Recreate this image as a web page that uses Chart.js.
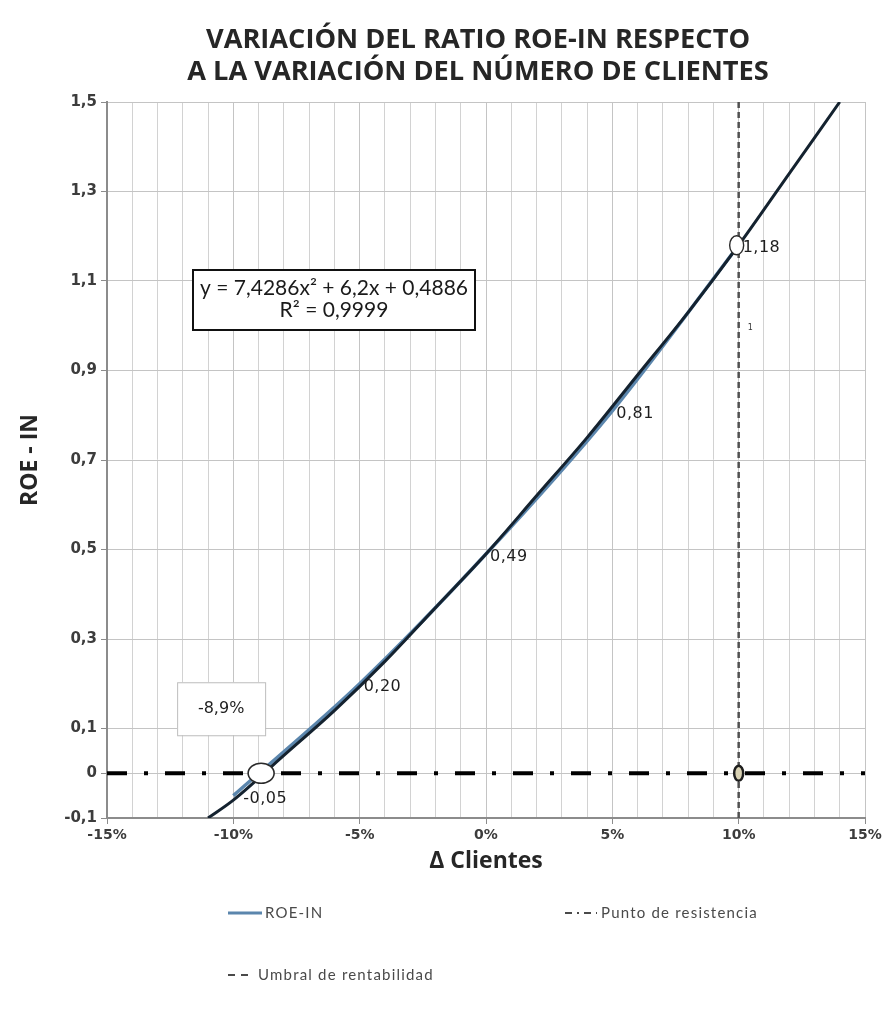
<!DOCTYPE html>
<html><head><meta charset="utf-8">
<script src="https://cdn.jsdelivr.net/npm/chart.js@4"></script>
<style>html,body{margin:0;padding:0;background:#fff}canvas{display:block}</style>
</head><body>
<canvas id="c" width="890" height="1014"></canvas>
<script>
// ---------- data ----------
const chartTitle = ['VARIACIÓN DEL RATIO ROE-IN RESPECTO', 'A LA VARIACIÓN DEL NÚMERO DE CLIENTES'];
const xAxisTitle = 'Δ Clientes';
const yAxisTitle = 'ROE - IN';

const xTickValues = [-15, -10, -5, 0, 5, 10, 15];
const xTickLabels = ['-15%', '-10%', '-5%', '0%', '5%', '10%', '15%'];
const yTickValues = [-0.1, 0, 0.1, 0.3, 0.5, 0.7, 0.9, 1.1, 1.3, 1.5];
const yTickLabels = ['-0,1', '0', '0,1', '0,3', '0,5', '0,7', '0,9', '1,1', '1,3', '1,5'];

// ROE-IN series (Δ clientes %, ROE-IN)
const roeX = [-10, -5, 0, 5, 10];
const roeY = [-0.05, 0.20, 0.49, 0.81, 1.18];
const roeLabels = ['-0,05', '0,20', '0,49', '0,81', '1,18'];

// polynomial trend line
const trendX = [-11, -10, -8, -6, -4, -2, 0, 2, 4, 6, 8, 10, 12, 14];
const trendY = [-0.10, -0.06, 0.04, 0.14, 0.25, 0.37, 0.49, 0.62, 0.75, 0.89, 1.03, 1.18, 1.34, 1.50];
const trendText = ['y = 7,4286x² + 6,2x + 0,4886', 'R² = 0,9999'];

// Punto de resistencia (dash-dot horizontal line)
const resistX = [-15, 10, 15];
const resistY = [0, 0, 0];

// Umbral de rentabilidad (dashed vertical line)
const umbralX = [10, 10, 10];
const umbralY = [-0.1, 1, 1.5];
const umbralLabels = ['', '1', ''];

// highlighted points
const breakEvenX = [-8.9, 10];
const breakEvenY = [0, 1.18];
const breakEvenLabels = ['-8,9%', ''];

const legendLabels = ['ROE-IN', 'Punto de resistencia', 'Umbral de rentabilidad'];

// ---------- chart ----------
const pts = (xs, ys) => xs.map((x, i) => ({x: x, y: ys[i]}));
const isMajorX = v => xTickValues.some(t => Math.abs(t - v) < 1e-6);

function fitSize(ctx, text, weight, family, target) {
  ctx.font = weight + ' 100px ' + family;
  return 100 * target / ctx.measureText(text).width;
}

const bgPlugin = {
  id: 'bg',
  beforeDraw(chart) {
    const c = chart.ctx;
    c.save(); c.fillStyle = '#fff'; c.fillRect(0, 0, chart.width, chart.height); c.restore();
  }
};

function ellipse(c, x, y, rx, ry, fill, stroke, lw) {
  c.beginPath(); c.ellipse(x, y, rx, ry, 0, 0, Math.PI * 2);
  c.fillStyle = fill; c.fill();
  c.lineWidth = lw; c.strokeStyle = stroke; c.stroke();
}

const annotPlugin = {
  id: 'annot',
  afterDatasetsDraw(chart) {
    const c = chart.ctx, xs = chart.scales.x, ys = chart.scales.y;
    c.save();
    // ring marker on resistance line at x = 10
    ellipse(c, xs.getPixelForValue(resistX[1]), ys.getPixelForValue(resistY[1]), 4.5, 7.5, '#d9d2b4', '#1e1e1e', 2.5);
    // tiny label on the umbral line
    c.font = '8px "DejaVu Sans"'; c.fillStyle = '#333'; c.textAlign = 'left'; c.textBaseline = 'middle';
    umbralLabels.forEach((t, i) => { if (t) c.fillText(t, xs.getPixelForValue(umbralX[i]) + 9, ys.getPixelForValue(umbralY[i]) + 2); });
    // highlighted ellipses
    ellipse(c, xs.getPixelForValue(breakEvenX[0]), ys.getPixelForValue(breakEvenY[0]), 13, 10, '#ffffff', '#2a2a2a', 1.6);
    ellipse(c, xs.getPixelForValue(breakEvenX[1]) - 2, ys.getPixelForValue(breakEvenY[1]), 7, 9.5, '#ffffff', '#2a2a2a', 1.4);
    // ROE-IN point labels
    c.font = '16px "DejaVu Sans"'; c.fillStyle = '#1e1e1e'; c.textAlign = 'left'; c.textBaseline = 'middle';
    c.letterSpacing = '0.5px';
    roeLabels.forEach((t, i) => {
      const px = xs.getPixelForValue(roeX[i]), py = ys.getPixelForValue(roeY[i]);
      const dx = i === 0 ? 10 : 4;
      c.fillText(t, px + dx, py + 3);
    });
    c.letterSpacing = '0px';
    // break-even label box
    const bx = xs.getPixelForValue(breakEvenX[0]);
    const by = ys.getPixelForValue(breakEvenY[0]);
    const boxL = bx - 84, boxT = by - 91, boxW = 88, boxH = 53;
    c.fillStyle = '#fff'; c.fillRect(boxL, boxT, boxW, boxH);
    c.strokeStyle = '#bdbdbd'; c.lineWidth = 1; c.strokeRect(boxL + 0.5, boxT + 0.5, boxW, boxH);
    c.font = '16px "DejaVu Sans"'; c.fillStyle = '#1e1e1e'; c.textAlign = 'center';
    c.fillText(breakEvenLabels[0], boxL + boxW / 2, boxT + boxH / 2);
    // trend equation box
    const eL = 193, eT = 270, eW = 282, eH = 60;
    c.fillStyle = '#fff'; c.fillRect(eL, eT, eW, eH);
    c.strokeStyle = '#111'; c.lineWidth = 2; c.strokeRect(eL, eT, eW, eH);
    const es = fitSize(c, trendText[0], 'normal', 'Lato', 268);
    c.font = es.toFixed(1) + 'px Lato'; c.fillStyle = '#1a1a1a'; c.textAlign = 'center';
    c.fillText(trendText[0], eL + eW / 2, eT + 18);
    c.fillText(trendText[1], eL + eW / 2, eT + 40);
    c.restore();
  },
  afterDraw(chart) {
    const c = chart.ctx;
    c.save();
    // title
    const ts = fitSize(c, chartTitle[0], 'bold', '"Open Sans"', 544);
    c.font = 'bold ' + ts.toFixed(1) + 'px "Open Sans"';
    c.fillStyle = '#262626'; c.textAlign = 'center'; c.textBaseline = 'middle';
    c.fillText(chartTitle[0], 478, 40);
    c.fillText(chartTitle[1], 478, 72);
    // legend
    c.font = '15px Lato'; c.fillStyle = '#4a4a4a'; c.textAlign = 'left'; c.textBaseline = 'middle';
    c.letterSpacing = '1.2px';
    // ROE-IN
    c.setLineDash([]); c.strokeStyle = '#5b86ad'; c.lineWidth = 3;
    c.beginPath(); c.moveTo(228, 913); c.lineTo(262, 913); c.stroke();
    c.fillText(legendLabels[0], 265, 913);
    // Punto de resistencia
    c.strokeStyle = '#4a4a4a'; c.lineWidth = 2; c.setLineDash([7, 5, 2, 5]);
    c.beginPath(); c.moveTo(565, 913); c.lineTo(597, 913); c.stroke();
    c.fillText(legendLabels[1], 601, 913);
    // Umbral de rentabilidad
    c.setLineDash([7, 6]);
    c.beginPath(); c.moveTo(228, 975); c.lineTo(250, 975); c.stroke();
    c.fillText(legendLabels[2], 258, 975);
    c.restore();
  }
};

Chart.defaults.font.family = 'Lato';

new Chart(document.getElementById('c'), {
  type: 'scatter',
  data: {
    datasets: [
      {label: 'Tendencia', data: pts(trendX, trendY), showLine: true, borderColor: '#14222f', borderWidth: 3,
       pointRadius: 0, cubicInterpolationMode: 'monotone', order: 1},
      {label: legendLabels[0], data: pts(roeX, roeY), showLine: true, borderColor: '#5b86ad', borderWidth: 3.5,
       pointRadius: 0, cubicInterpolationMode: 'monotone', order: 2},
      {label: legendLabels[1], data: pts(resistX, resistY), showLine: true, borderColor: '#000', borderWidth: 4,
       borderDash: [20, 17, 4, 17], pointRadius: 0, order: 3},
      {label: legendLabels[2], data: pts(umbralX, umbralY), showLine: true, borderColor: '#505050', borderWidth: 2.5,
       borderDash: [6, 4], pointRadius: 0, order: 4}
    ]
  },
  options: {
    responsive: false,
    animation: false,
    devicePixelRatio: 1,
    layout: {padding: {left: 17, top: 102, right: 25, bottom: 139}},
    plugins: {legend: {display: false}, title: {display: false}, tooltip: {enabled: false}},
    scales: {
      x: {
        type: 'linear', min: -15, max: 15,
        afterFit(s) { s.height = 57; },
        ticks: {
          stepSize: 1, autoSkip: false, maxRotation: 0, padding: 3,
          color: '#3c3c3c', font: {family: '"DejaVu Sans"', weight: 'bold', size: 14},
          callback(v) { const i = xTickValues.findIndex(t => Math.abs(t - v) < 1e-6); return i >= 0 ? xTickLabels[i] : ''; }
        },
        grid: {
          color: ctx => (ctx.tick && isMajorX(ctx.tick.value)) ? '#c4c4c4' : '#d2d2d2',
          tickColor: ctx => (ctx.tick && isMajorX(ctx.tick.value)) ? '#8c8c8c' : 'rgba(0,0,0,0)',
          tickLength: 6, lineWidth: 1
        },
        border: {color: '#8c8c8c', width: 2},
        title: {display: true, text: xAxisTitle, color: '#262626', padding: {top: 0, bottom: 0},
                font: {family: '"Open Sans"', weight: 'bold', size: 23}}
      },
      y: {
        type: 'linear', min: -0.1, max: 1.5,
        afterFit(s) { s.width = 90; },
        afterBuildTicks(s) { s.ticks = yTickValues.map(v => ({value: v})); },
        ticks: {
          padding: 4, color: '#3c3c3c', font: {family: '"DejaVu Sans"', weight: 'bold', size: 15},
          callback(v, i) { return yTickLabels[i]; }
        },
        grid: {color: '#c4c4c4', tickColor: '#8c8c8c', tickLength: 6, lineWidth: 1},
        border: {color: '#8c8c8c', width: 2},
        title: {display: true, text: yAxisTitle, color: '#262626', padding: {top: 0, bottom: 0},
                font: {family: '"Open Sans"', weight: 'bold', size: 23}}
      }
    }
  },
  plugins: [bgPlugin, annotPlugin]
});
</script>
</body></html>
